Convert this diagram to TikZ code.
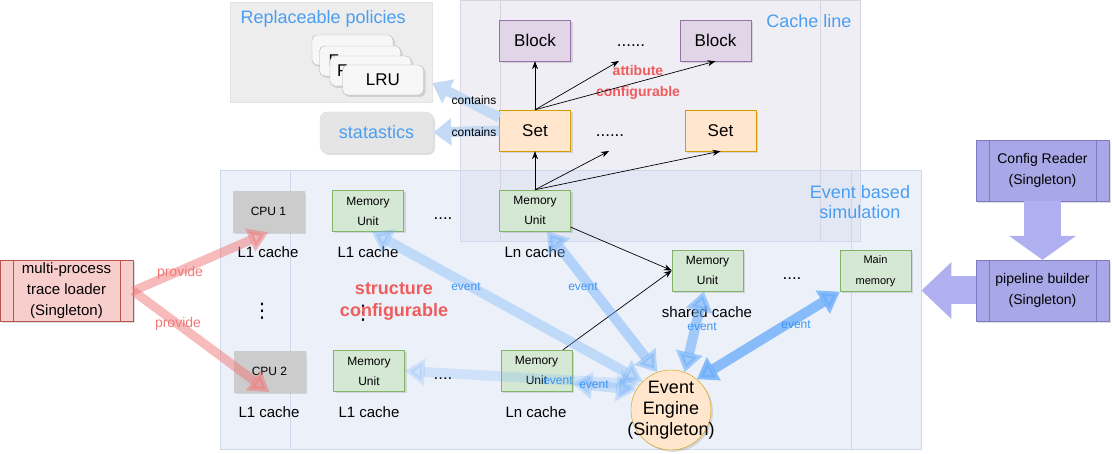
\documentclass[tikz,border=0pt]{standalone}
\usepackage{fontspec}
\setmainfont{Liberation Sans}
\newfontfamily\symfont{DejaVu Sans}
\usepackage{tikz}
\usetikzlibrary{arrows.meta,shapes,positioning,shadows}
\usepackage{xcolor}
\definecolor{csblue}{RGB}{74,158,242}
\definecolor{csred}{RGB}{238,92,92}
\definecolor{csevent}{RGB}{60,150,245}
\definecolor{csflow}{RGB}{110,175,250}
\definecolor{cssoft}{RGB}{196,218,245}
\definecolor{csprovide}{RGB}{240,120,120}
\definecolor{cspurple}{RGB}{176,176,240}
\definecolor{cscfgfill}{RGB}{168,168,232}
\definecolor{cscfgline}{RGB}{130,120,200}
\definecolor{csblockfill}{RGB}{225,213,231}
\definecolor{csblockline}{RGB}{150,115,166}
\definecolor{cssetfill}{RGB}{255,230,204}
\definecolor{cssetline}{RGB}{215,155,0}
\definecolor{csmemfill}{RGB}{213,232,212}
\definecolor{csmemline}{RGB}{130,179,102}
\definecolor{csloadfill}{RGB}{248,206,204}
\definecolor{csloadline}{RGB}{184,84,80}
\definecolor{csgray}{RGB}{204,204,204}
\definecolor{cscachefill}{RGB}{222,218,232}
\definecolor{cscacheline}{RGB}{214,212,224}
\definecolor{cseventfill}{RGB}{212,223,242}
\definecolor{cseventline}{RGB}{206,216,234}
\tikzstyle{arrow} = [line width=0.7pt,-{Stealth[length=8pt,width=6pt]}]
\tikzstyle{shade} = [drop shadow={shadow xshift=2pt,shadow yshift=-2pt,opacity=0.25}]

\begin{document}
\begin{tikzpicture}[x=1pt,y=-1pt,
    box/.style={rectangle, inner sep=0pt, minimum width=71pt, minimum height=41pt, align=center, font=\fontsize{17}{20}\selectfont, shade},
    block/.style={box, draw=csblockline, fill=csblockfill},
    setbox/.style={box, draw=cssetline, fill=cssetfill},
    memunit/.style={box, draw=csmemline, fill=csmemfill, font=\fontsize{12}{20}\selectfont},
    cpu/.style={box, draw=csgray, fill=csgray, font=\fontsize{12}{20}\selectfont},
    policy/.style={box, rounded corners=5pt, draw=gray!60, fill=white!97!black, minimum width=81pt, minimum height=30pt},
    process/.style={rectangle, inner sep=0pt, minimum width=133pt, minimum height=61pt, align=center, shade},
    panel/.style={rectangle, inner sep=0pt, anchor=north west},
    panelline/.style={draw=#1, line width=0.6pt},
    title/.style={text=csblue, align=center, font=\fontsize{18}{20}\selectfont},
    note/.style={text=csred, align=center, font=\bfseries\fontsize{18}{22}\selectfont},
    caption/.style={font=\fontsize{15}{18}\selectfont},
    small/.style={font=\fontsize{12}{14}\selectfont, inner sep=0pt},
    evlabel/.style={small, text=csevent},
    dots/.style={font=\fontsize{17}{18}\selectfont, inner sep=0pt},
    vdots/.style={font=\symfont\fontsize{20}{20}\selectfont, inner sep=0pt},
    eventflow/.style={line width=10pt, draw=csflow, arrows={Triangle[width=26pt,length=20pt]-Triangle[width=26pt,length=20pt]}},
    softflow/.style={line width=10pt, draw=cssoft, arrows={-Triangle[width=26pt,length=18pt]}},
    provideflow/.style={line width=9pt, draw=csprovide, opacity=0.5, arrows={-Triangle[width=24pt,length=20pt]}}]

\useasboundingbox (0,0) rectangle (1112,454);

% Background panels
\node[panel, fill=black!7, draw=black!11, minimum width=202pt, minimum height=100pt] (polpanel) at (230,2) {};
\node[panel, fill=cscachefill, fill opacity=0.45, draw=cscacheline, minimum width=400pt, minimum height=241pt] (cachepanel) at (460,0) {};
\node[panel, fill=cseventfill, fill opacity=0.45, draw=cseventline, minimum width=701pt, minimum height=279pt] (eventpanel) at (220,170) {};
\draw[panelline=cscacheline] ([xshift=40pt]cachepanel.north west) -- ([xshift=40pt]cachepanel.south west);
\draw[panelline=cscacheline] ([xshift=-40pt]cachepanel.north east) -- ([xshift=-40pt]cachepanel.south east);
\draw[panelline=cseventline] ([xshift=70pt]eventpanel.north west) -- ([xshift=70pt]eventpanel.south west);
\draw[panelline=cseventline] ([xshift=-70pt]eventpanel.north east) -- ([xshift=-70pt]eventpanel.south east);

% Titles
\node[title, anchor=west] (poltitle) at (237,19) {Replaceable policies};
\node[title] (cachetitle) at (809,21) {Cache line};
\node[title] (eventtitle) at (860,202) {Event based\\simulation};

% Replaceable policies
\node[policy] (polA) at (352.5,50) {};
\node[policy, text width=63pt, align=left] (polB) at (360,61) {F};
\node[policy, text width=67pt, align=left] (polC) at (370.5,71) {F};
\node[policy] (lru) at (383,80) {LRU};
\node[box, rounded corners=7pt, draw=black!12, fill=black!10, minimum width=113pt, text=csblue, font=\fontsize{18}{20}\selectfont] (stats) at (376.5,132.5) {statastics};

% Cache line
\node[block] (blockA) at (535,40.5) {Block};
\node[dots] (blockdots) at (631,46) {......};
\node[block] (blockB) at (715.5,40.5) {Block};
\node[setbox] (setA) at (535,130.5) {Set};
\node[dots] (setdots) at (610,136) {......};
\node[setbox] (setB) at (720.5,130.5) {Set};
\coordinate (blockgap) at (619,61);
\coordinate (setgap) at (609,151);
\node[note, font=\bfseries\fontsize{14}{21}\selectfont] (attnote) at (638,82) {attibute\\configurable};

% Caches
\node[cpu] (cpuA) at (268.5,211.5) {CPU 1};
\node[caption] (cpuAcap) at (268,252) {L1 cache};
\node[cpu] (cpuB) at (269.5,371.5) {CPU 2};
\node[caption] (cpuBcap) at (269,412) {L1 cache};
\node[vdots] (cpudots) at (262,311) {⋮};

\node[memunit] (memLoneA) at (368,211) {Memory\\Unit};
\node[caption] (memLoneAcap) at (368,252) {L1 cache};
\node[memunit] (memLoneB) at (369,371) {Memory\\Unit};
\node[caption] (memLoneBcap) at (369,412) {L1 cache};
\node[dots] (rowdotsA) at (443,219) {....};
\node[dots] (rowdotsB) at (443,379) {....};

\node[memunit] (memLnA) at (535,210.5) {Memory\\Unit};
\node[caption] (memLnAcap) at (535,252) {Ln cache};
\node[memunit] (memLnB) at (536.5,370.5) {Memory\\Unit};
\node[caption] (memLnBcap) at (536,412) {Ln cache};

\node[memunit] (memShared) at (707.5,270.5) {Memory\\Unit};
\node[caption] (memSharedcap) at (707,312) {shared cache};
\node[dots] (shareddots) at (792,279) {....};
\node[memunit, font=\fontsize{11}{21}\selectfont] (mainMem) at (875.5,271) {Main\\memory};

\node[vdots] (memdots) at (363,313) {⋮};
\node[note] (structnote) at (394,302) {structure\\configurable};

% Event engine
\node[circle, draw=cssetline, fill=cssetfill, minimum size=80pt, inner sep=-14pt, align=center, font=\fontsize{18}{21}\selectfont, shade] (engine) at (671,410) {Event\\Engine\\(Singleton)};

% Singletons outside
\node[process, draw=csloadline, fill=csloadfill, font=\fontsize{15}{21}\selectfont] (loader) at (66.5,291) {multi-process\\trace loader\\(Singleton)};
\node[process, draw=cscfgline, fill=cscfgfill, font=\fontsize{14}{21}\selectfont] (config) at (1042.5,170.5) {Config Reader\\(Singleton)};
\node[process, draw=cscfgline, fill=cscfgfill, font=\fontsize{14}{21}\selectfont] (pipeline) at (1042.5,290.5) {pipeline builder\\(Singleton)};
\foreach \n/\c in {loader/csloadline, config/cscfgline, pipeline/cscfgline} {
  \draw[panelline=\c] ([xshift=13pt]\n.north west) -- ([xshift=13pt]\n.south west);
  \draw[panelline=\c] ([xshift=-13pt]\n.north east) -- ([xshift=-13pt]\n.south east);
}

% Connections
\draw[arrow] (setA.north) -- (blockA.south);
\draw[arrow] (setA.north) -- (blockgap);
\draw[arrow] (setA.north) -- (blockB.south);
\draw[arrow] (memLnA.north) -- (setA.south);
\draw[arrow] (memLnA.north) -- (setgap);
\draw[arrow] (memLnA.north) -- (setB.south);
\draw[arrow] (memLnA.-25) -- (memShared.west);
\draw[arrow] (memLnB.38) -- (memShared.west);

\draw[softflow] (setA.160) -- (polpanel.-17);
\draw[softflow] (setA.west) -- (stats.east);
\node[small] (containsA) at (474,100) {contains};
\node[small] (containsB) at (474,132) {contains};

\draw[provideflow] (loader.east) -- (cpuA.south);
\draw[provideflow] (loader.east) -- (cpuB.south);
\node[text=csprovide, font=\fontsize{14}{16}\selectfont] (provideA) at (180,273) {provide};
\node[text=csprovide, font=\fontsize{14}{16}\selectfont] (provideB) at (178,324) {provide};

\draw[eventflow, opacity=0.35] (memLoneA.-80) -- (engine.135);
\draw[eventflow, opacity=0.45] (memLnA.-60) -- (engine.110);
\draw[eventflow, opacity=0.22] (memLoneB.east) -- (engine.140);
\draw[eventflow, opacity=0.3] (memLnB.-20) -- (engine.150);
\draw[eventflow, opacity=0.6] (memShared.-100) -- (engine.70);
\draw[eventflow, opacity=0.8] (mainMem.south west) -- (engine.50);
\node[evlabel] (evA) at (466,287) {event};
\node[evlabel] (evB) at (583,287) {event};
\node[evlabel] (evC) at (558,381) {event};
\node[evlabel] (evD) at (594,385) {event};
\node[evlabel] (evE) at (702,327) {event};
\node[evlabel] (evF) at (796,325) {event};

\draw[draw=cspurple, line width=37pt, arrows={-Triangle[width=66pt,length=24pt]}] (config.south) -- (pipeline.north);
\draw[draw=cspurple, line width=28pt, arrows={-Triangle[width=55pt,length=30pt]}] (pipeline.west) -- (pipeline.west -| eventpanel.east);
\end{tikzpicture}
\end{document}
